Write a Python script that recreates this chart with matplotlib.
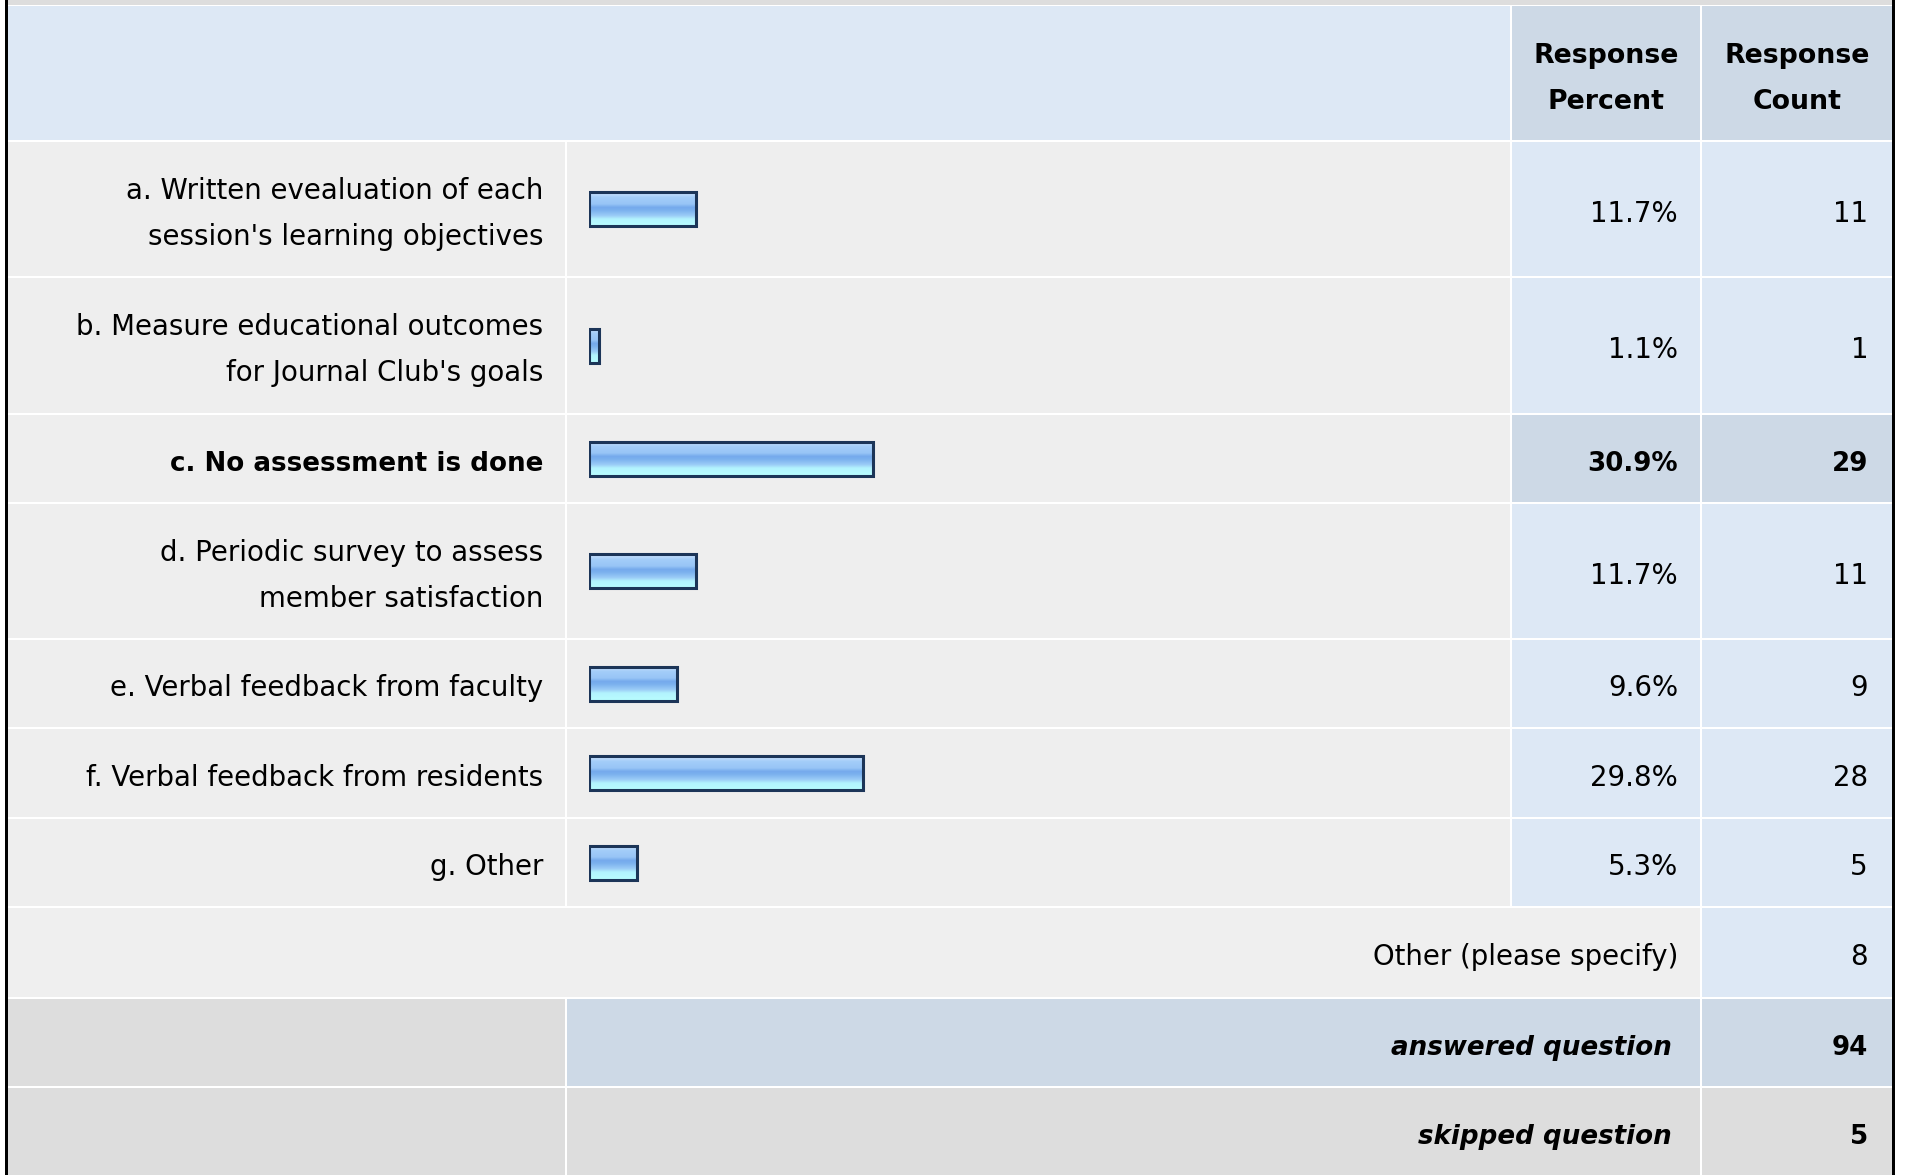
import numpy as np
import matplotlib
matplotlib.use('Agg')
import matplotlib.pyplot as plt
from matplotlib.patches import Rectangle
from matplotlib.colors import LinearSegmentedColormap

# ---------------- data ----------------
labels = [
    "a. Written evealuation of each\nsession's learning objectives",
    "b. Measure educational outcomes\nfor Journal Club's goals",
    "c. No assessment is done",
    "d. Periodic survey to assess\nmember satisfaction",
    "e. Verbal feedback from faculty",
    "f. Verbal feedback from residents",
    "g. Other",
]
percents = [11.7, 1.1, 30.9, 11.7, 9.6, 29.8, 5.3]
counts = [11, 1, 29, 11, 9, 28, 5]
highlight = "c. No assessment is done"
header_cols = ["Response\nPercent", "Response\nCount"]
other_label = "Other (please specify)"
other_count = 8
answered_label = "answered question"
answered_count = 94
skipped_label = "skipped question"
skipped_count = 5

# ---------------- layout ----------------
W, H = 1907, 1175
fig = plt.figure(figsize=(W / 100, H / 100), dpi=100)
fig.patch.set_facecolor('white')
ax = fig.add_axes([0, 0, 1, 1])
ax.set_xlim(0, W)
ax.set_ylim(H, 0)
ax.axis('off')

GRAY = '#eeeeee'
BLUE = '#dde8f5'
BLUE2 = '#cdd9e6'
FOOT = '#dddddd'
FONT = 'DejaVu Sans'
FS = 19.9
FSB = 18.8

X0, XL, XB, XP, XP2, XC, XC2, XR = 8, 565, 567, 1510, 1512, 1700, 1702, 1892

row_tops = [142, 278, 415, 504, 640, 729, 819]
row_bots = [276, 413, 502, 638, 727, 817, 906]


def rect(x0, x1, y0, y1, c, z=1):
    ax.add_patch(Rectangle((x0, y0), x1 - x0, y1 - y0, facecolor=c,
                           edgecolor='none', zorder=z))


CAP = 19.6
OFF = 3.0


def put(x, yc, s, ha='right', weight='normal', style='normal', spacing=46, fs=None):
    lines = s.split('\n')
    n = len(lines)
    if fs is None:
        fs = FSB if weight == 'bold' else FS
    for i, line in enumerate(lines):
        yl = yc + (i - (n - 1) / 2) * spacing
        ax.text(x, yl + CAP / 2 + OFF, line, ha=ha, va='baseline',
                fontsize=fs, family=FONT, weight=weight, style=style,
                color='black', zorder=5)


# top band
rect(X0, XR, 0, 5, FOOT)
# header
rect(X0, XP, 6, 140, BLUE)
rect(XP2, XC, 6, 140, BLUE2)
rect(XC2, XR, 6, 140, BLUE2)
put((XP2 + XC) / 2, 73.3, header_cols[0], ha='center', weight='bold', fs=19.3)
put((XC2 + XR) / 2, 73.3, header_cols[1], ha='center', weight='bold', fs=19.3)

# data rows
centers = []
for lab, p, c, t, b in zip(labels, percents, counts, row_tops, row_bots):
    hl = (lab == highlight)
    rect(X0, XL, t, b, GRAY)
    rect(XB, XP, t, b, GRAY)
    rect(XP2, XC, t, b, BLUE2 if hl else BLUE)
    rect(XC2, XR, t, b, BLUE2 if hl else BLUE)
    yc = (t + b) / 2
    centers.append(yc)
    w = 'bold' if hl else 'normal'
    put(543, yc, lab, weight=w)
    put(1678, yc, f"{p:.1f}%", weight=w)
    put(1868, yc, str(c), weight=w)

# other row
t, b = 908, 997
rect(X0, XC, t, b, '#efefef')
rect(XC2, XR, t, b, BLUE)
put(1678, (t + b) / 2, other_label)
put(1868, (t + b) / 2, str(other_count))

# answered row
t, b = 999, 1086
rect(X0, XL, t, b, FOOT)
rect(XB, XC, t, b, BLUE2)
rect(XC2, XR, t, b, BLUE2)
put(1672, (t + b) / 2, answered_label, weight='bold', style='italic')
put(1868, (t + b) / 2, str(answered_count), weight='bold')

# skipped row
t, b = 1088, H + 5
rect(X0, XL, t, b, FOOT)
rect(XB, XC, t, b, FOOT)
rect(XC2, XR, t, b, FOOT)
put(1672, (1088 + 1175) / 2, skipped_label, weight='bold', style='italic')
put(1868, (1088 + 1175) / 2, str(skipped_count), weight='bold')

# outer borders
rect(5, 7.5, 0, H, 'black', z=6)
rect(XR, XR + 3, 0, H, 'black', z=6)

# ---------------- bars ----------------
bax = fig.add_axes([588.5 / W, 0, 920 / W, 1])
bax.patch.set_alpha(0)
bax.axis('off')
bars = bax.barh(centers, percents, height=34, facecolor='none',
                edgecolor='#1c3558', linewidth=2.2, zorder=3)
cmap = LinearSegmentedColormap.from_list('grad', [
    (0.0, '#cfe4fd'), (0.15, '#a3cdf9'), (0.35, '#98c5f6'), (0.45, '#74a9ec'),
    (0.55, '#7db3ef'), (0.7, '#9ccdf7'), (0.8, '#b2f3fe'), (1.0, '#b8fcff')])
grad = np.linspace(0, 1, 64).reshape(-1, 1)
for bar in bars:
    x0, y0 = bar.get_x(), bar.get_y()
    bw, bh = bar.get_width(), bar.get_height()
    im = bax.imshow(grad, extent=(x0, x0 + bw, y0 + bh, y0), origin='upper',
                    aspect='auto', cmap=cmap, interpolation='bilinear', zorder=2)
    im.set_clip_path(bar)
bax.set_xlim(0, 100)
bax.set_ylim(H, 0)

fig.savefig('out.png', dpi=100)
